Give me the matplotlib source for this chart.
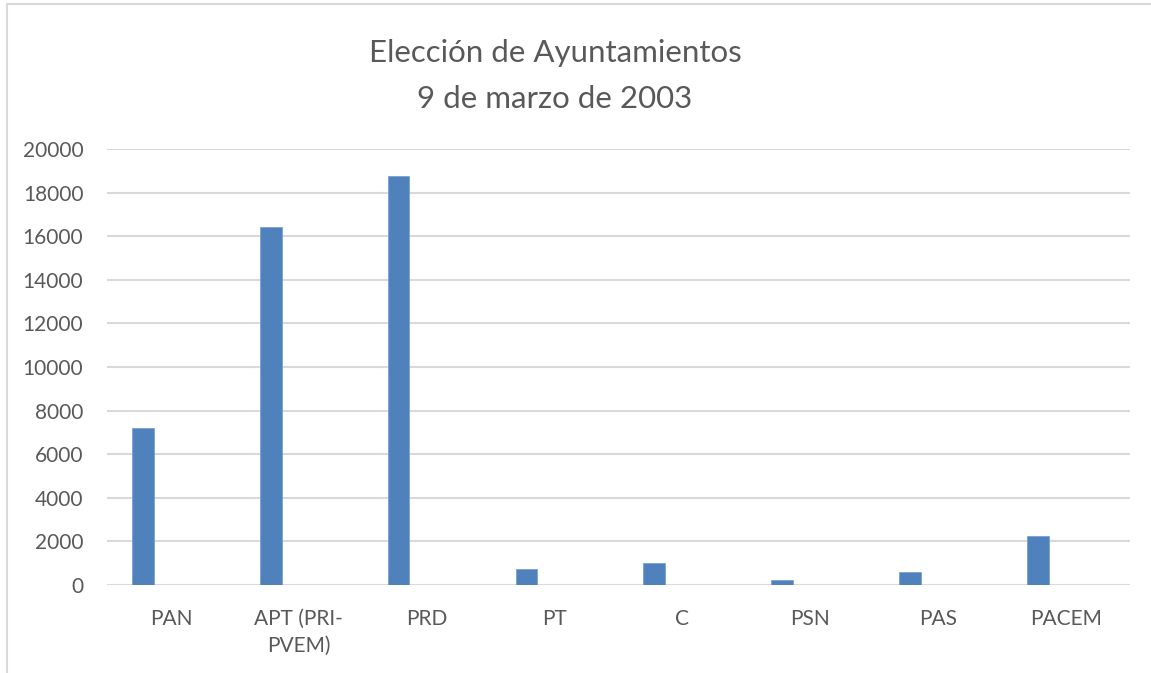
import numpy as np
import matplotlib
matplotlib.use("Agg")
from matplotlib import pyplot as plt
from matplotlib.patches import Rectangle

partidos = ["PAN", "APT (PRI-\nPVEM)", "PRD", "PT", "C", "PSN", "PAS", "PACEM"]
votos = [7200, 16430, 18780, 720, 1020, 230, 600, 2250]
ticks_y = [0, 2000, 4000, 6000, 8000, 10000, 12000, 14000, 16000, 18000, 20000]

gris = "#595959"
azul = "#4F81BD"
plt.rcParams["font.family"] = ["Lato", "DejaVu Sans"]

fig = plt.figure(figsize=(11.51, 6.73), dpi=100)
# chart border (light gray frame, partly off the picture)
fig.patches.append(Rectangle((7 / 1151, -0.05), 1.2, 1 - 4 / 673 + 0.05,
                             transform=fig.transFigure, fill=False,
                             edgecolor="#D9D9D9", linewidth=1.5))

ax = fig.add_axes([107 / 1151, 1 - 585 / 673, (1130 - 107) / 1151, (585 - 149) / 673])
x = np.arange(len(partidos))
ax.bar(x - 0.22, votos, width=0.17, color=azul, edgecolor="#7BA0D0", linewidth=0.6, zorder=3)

ax.set_xlim(-0.5, len(partidos) - 0.5)
ax.set_ylim(0, 20000)
ax.set_yticks(ticks_y)
ax.set_yticklabels([str(t) for t in ticks_y])
ax.set_xticks(x)
ax.set_xticklabels(partidos, linespacing=1.45)
ax.tick_params(axis="y", length=0, pad=17, labelsize=15, labelcolor=gris)
ax.tick_params(axis="x", length=0, pad=17, labelsize=15, labelcolor=gris)
for lab in ax.get_xticklabels():
    lab.set_verticalalignment("top")

ax.grid(axis="y", color="#D9D9D9", linewidth=1.5, zorder=0)
for s in ax.spines.values():
    s.set_visible(False)

fig.text(555 / 1151, 1 - 76 / 673, "Elección de Ayuntamientos\n9 de marzo de 2003",
         ha="center", va="center", fontsize=22.5, color=gris, linespacing=1.75)

fig.savefig("out.png", dpi=100)
